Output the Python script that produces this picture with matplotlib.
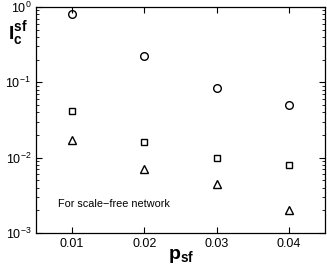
import matplotlib
matplotlib.use("Agg")
import matplotlib.pyplot as plt
from matplotlib.ticker import LogLocator, NullFormatter

plt.rcParams['font.family'] = 'Liberation Sans'
plt.rcParams['mathtext.fontset'] = 'custom'
plt.rcParams['mathtext.rm'] = 'Liberation Sans'
plt.rcParams['mathtext.bf'] = 'Liberation Sans:bold'
plt.rcParams['mathtext.it'] = 'Liberation Sans:italic'

# data
p_sf = [0.01, 0.02, 0.03, 0.04]
circles = [0.80, 0.22, 0.085, 0.05]
squares = [0.041, 0.016, 0.0100, 0.0080]
triangles = [0.017, 0.0070, 0.0045, 0.0020]
x_ticks = [0.01, 0.02, 0.03, 0.04]
x_tick_labels = ["0.01", "0.02", "0.03", "0.04"]

fig = plt.figure(figsize=(3.27, 2.65), dpi=100)
ax = fig.add_axes([0.110, 0.121, 0.884, 0.853])

mk = dict(linestyle='none', markerfacecolor='none', markeredgecolor='black',
          markeredgewidth=1.0)
ax.plot(p_sf, circles, marker='o', markersize=5.5, **mk)
ax.plot(p_sf, squares, marker='s', markersize=4.5, **mk)
ax.plot(p_sf, triangles, marker='^', markersize=5.5, **mk)

ax.set_yscale('log')
ax.set_xlim(0.005, 0.045)
ax.set_ylim(1e-3, 1)
ax.set_xticks(x_ticks)
ax.set_xticklabels(x_tick_labels)
ax.yaxis.set_major_locator(LogLocator(base=10, numticks=10))
ax.yaxis.set_minor_locator(LogLocator(base=10, subs=range(2, 10), numticks=10))
ax.yaxis.set_minor_formatter(NullFormatter())

ax.tick_params(which='both', direction='in', top=True, right=True, labelsize=9)
ax.tick_params(which='major', length=4, width=0.8)
ax.tick_params(which='minor', length=2, width=0.6)
for s in ax.spines.values():
    s.set_linewidth(0.9)

ax.text(0.008, 0.0024, "For scale\u2212free network", fontsize=7.8, va='center')

fig.text(0.025, 0.872, r'$\mathbf{I}_{\mathbf{c}}^{\mathbf{sf}}$', fontsize=14, va='center')
fig.text(0.555, 0.035, r'$\mathbf{p}_{\mathbf{sf}}$', fontsize=14, ha='center', va='center')

fig.savefig("out.png", dpi=100)
